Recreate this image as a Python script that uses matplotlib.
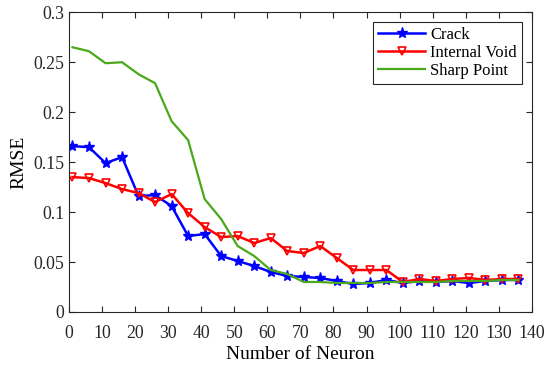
import matplotlib
matplotlib.use("Agg")
import matplotlib.pyplot as plt
from matplotlib.ticker import FixedLocator, FixedFormatter

plt.rcParams['font.family'] = ['Liberation Serif', 'DejaVu Serif']

neurons = [1, 6, 11, 16, 21, 26, 31, 36, 41, 46, 51, 56, 61, 66,
           71, 76, 81, 86, 91, 96, 101, 106, 111, 116, 121, 126, 131, 136]
crack = [0.166, 0.165, 0.149, 0.155, 0.116, 0.117, 0.106, 0.076, 0.078, 0.056,
         0.051, 0.046, 0.040, 0.036, 0.035, 0.034, 0.031, 0.028, 0.029, 0.032,
         0.029, 0.031, 0.030, 0.031, 0.029, 0.031, 0.032, 0.032]
internal_void = [0.135, 0.134, 0.129, 0.123, 0.119, 0.110, 0.118, 0.099, 0.085, 0.075,
                 0.076, 0.069, 0.074, 0.061, 0.059, 0.066, 0.054, 0.042, 0.042, 0.042,
                 0.030, 0.033, 0.031, 0.033, 0.034, 0.032, 0.033, 0.033]
sharp_point = [0.265, 0.261, 0.249, 0.250, 0.238, 0.229, 0.191, 0.172, 0.113, 0.093,
               0.066, 0.056, 0.042, 0.038, 0.030, 0.030, 0.029, 0.029, 0.029, 0.030,
               0.030, 0.030, 0.030, 0.031, 0.031, 0.031, 0.032, 0.032]

xticks = list(range(0, 141, 10))
yticks = [0, 0.05, 0.1, 0.15, 0.2, 0.25, 0.3]
ytick_labels = ["0", "0.05", "0.1", "0.15", "0.2", "0.25", "0.3"]

fig = plt.figure(figsize=(5.5, 3.67), dpi=100)
ax = fig.add_axes([0.1258, 0.150, 0.8409, 0.8165])

ax.plot(neurons, crack, color='#0000ff', lw=1.8, marker='*', ms=8,
        mfc='#0000ff', mec='#0000ff', label='Crack')
ax.plot(neurons, internal_void, color='#ff0000', lw=1.8, marker='v', ms=6,
        mfc='none', mec='#ff0000', mew=1.2, label='Internal Void')
ax.plot(neurons, sharp_point, color='#4aa91a', lw=1.6, label='Sharp Point')

ax.set_xlim(0, 140)
ax.set_ylim(0, 0.3)
ax.xaxis.set_major_locator(FixedLocator(xticks))
ax.yaxis.set_major_locator(FixedLocator(yticks))
ax.yaxis.set_major_formatter(FixedFormatter(ytick_labels))
ax.tick_params(direction='in', top=True, right=True, labelsize=12.8, length=4,
               width=0.8, colors='#262626')
ax.tick_params(axis='x', pad=9.5)
for s in ax.spines.values():
    s.set_color('#262626')
    s.set_linewidth(0.8)

ax.set_xlabel('Number of Neuron', fontsize=14, labelpad=3)
ax.set_ylabel('RMSE', fontsize=14, labelpad=4)

leg = ax.legend(loc='upper right', fontsize=12, fancybox=False, framealpha=1,
                edgecolor='#262626', borderpad=0.3, labelspacing=0.1,
                handlelength=2.8, handletextpad=0.3, borderaxespad=0.6)
leg.get_frame().set_linewidth(0.8)

fig.savefig('out.png', dpi=100)
